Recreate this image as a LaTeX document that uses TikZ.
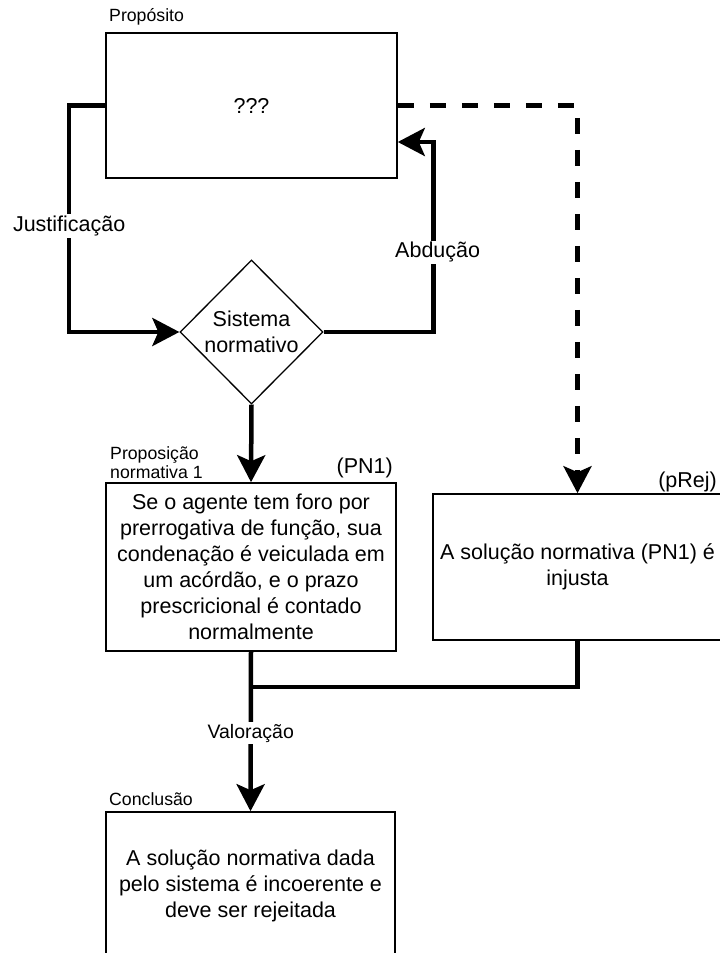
\documentclass[tikz,border=0pt]{standalone}
\usepackage{fontspec}
\setmainfont{Liberation Sans}
\usetikzlibrary{arrows.meta,shapes.geometric}
\newcommand\bigtxt{\fontsize{21.5}{26}\selectfont}
\newcommand\midtxt{\fontsize{19.5}{24}\selectfont}
\newcommand\smalltxt{\fontsize{17.7}{19.5}\selectfont}
\begin{document}
\begin{tikzpicture}[x=1pt,y=-1pt,
  box/.style={draw, line width=1.6pt, rectangle, inner sep=0pt, align=center, font=\bigtxt},
  decision/.style={draw, diamond, line width=1.3pt, inner sep=0pt, minimum width=143pt,
    minimum height=144pt, align=center, font=\bigtxt},
  caption/.style={inner sep=0pt, anchor=west, align=left, font=\smalltxt},
  tag/.style={inner sep=0pt, anchor=east, font=\bigtxt},
  elbl/.style={fill=white, inner sep=1.5pt, font=\bigtxt},
  link/.style={line width=4.5pt},
  flow/.style={link, -{Stealth[length=27pt,width=28pt,inset=6pt]}},
  dflow/.style={flow, dash pattern=on 16pt off 16pt}]
\clip (0,0) rectangle (720,953);

% boxes
\node[box, minimum width=291pt, minimum height=145pt] (P) at (251.5,105.5) {???};
\node[caption] (Pcap) at (109,17) {Propósito};

\node[decision] (D) at (251.5,332) {Sistema\\normativo};

\node[box, minimum width=290pt, minimum height=168pt] (N) at (251,567)
  {Se o agente tem foro por\\prerrogativa de função, sua\\condenação é veiculada em\\um acórdão, e o prazo\\prescricional é contado\\normalmente};
\node[caption] (Ncap) at (110,462.5) {Proposição\\normativa 1};
\node[tag] (Ntag) at (393,468) {(PN1)};

\node[box, minimum width=289pt, minimum height=146pt] (R) at (577.5,567)
  {A solução normativa (PN1) é\\injusta};
\node[tag] (Rtag) at (717,482) {(pRej)};

\node[box, minimum width=289pt, minimum height=148pt] (C) at (250.5,886)
  {A solução normativa dada\\pelo sistema é incoerente e\\deve ser rejeitada};
\node[caption] (Ccap) at (109,799) {Conclusão};

% connectors
\draw[flow] (P.west) -- ++(-36,0) |- node[elbl, pos=0.266] {Justificação} (D.west);
\draw[flow] (D.east) -- ++(110,0) |- node[elbl, pos=0.21, xshift=4pt] {Abdução} ([yshift=-36.5pt]P.east);
\draw[dflow] (P.east) -| (R.north);
\draw[flow] (D.south) -- (N.north);
\coordinate (J) at (N.south |- 0,687);
\draw[link] (R.south) |- (J);
\draw[flow] (N.south) -- node[elbl, font=\midtxt, pos=0.51] {Valoração} (C.north);
\end{tikzpicture}
\end{document}
